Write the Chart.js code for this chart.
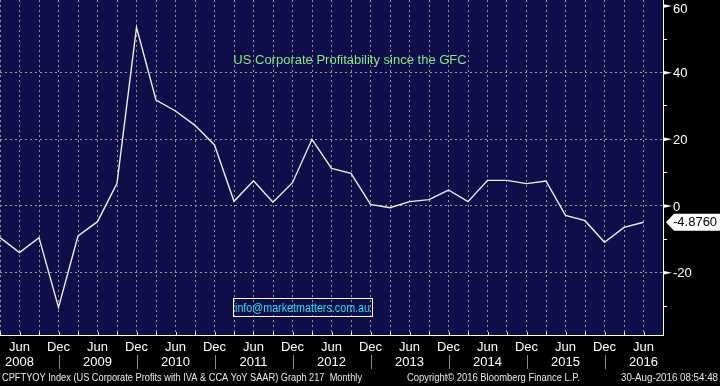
<!DOCTYPE html>
<html>
<head>
<meta charset="utf-8">
<script src="https://cdn.jsdelivr.net/npm/chart.js@4.4.0/dist/chart.umd.min.js"></script>
<style>
  html, body { margin: 0; padding: 0; background: #000; }
  #wrap { width: 720px; height: 386px; position: relative; }
</style>
</head>
<body>
<div id="wrap"><canvas id="profitChart"></canvas></div>
<script>
  // quarter ends, last one is an empty slot after the final print
  const quarters = [
    "2008-03", "2008-06", "2008-09", "2008-12",
    "2009-03", "2009-06", "2009-09", "2009-12",
    "2010-03", "2010-06", "2010-09", "2010-12",
    "2011-03", "2011-06", "2011-09", "2011-12",
    "2012-03", "2012-06", "2012-09", "2012-12",
    "2013-03", "2013-06", "2013-09", "2013-12",
    "2014-03", "2014-06", "2014-09", "2014-12",
    "2015-03", "2015-06", "2015-09", "2015-12",
    "2016-03", "2016-06", "2016-09",
  ];

  // CPFTYOY, US corporate profits YoY %
  const profitYoY = [
    -9.5, -14.0, -9.5, -30.4,
    -9.0, -4.7, 6.8, 53.6,
    31.8, 28.5, 24.2, 18.3,
    1.4, 7.6, 1.1, 7.0,
    20.0, 11.3, 9.8, 0.5,
    -0.5, 1.3, 1.9, 4.8,
    1.3, 7.7, 7.7, 6.7,
    7.5, -2.8, -4.4, -10.9,
    -6.4, -4.876,
  ];

  const monthNames = { "03": "Mar", "06": "Jun", "09": "Sep", "12": "Dec" };
  const labelledMonths = ["Jun", "Dec"];
  const yLabels = [-20, 0, 20, 40, 60];
  const yMin = -38.7;
  const yMax = 61.8;

  const titleText = "US Corporate Profitability since the GFC";
  const contactText = "info@marketmatters.com.au";
  const sourceText = "CPFTYOY Index (US Corporate Profits with IVA & CCA YoY SAAR) Graph 217  Monthly";
  const copyrightText = "Copyright\u00a9 2016 Bloomberg Finance L.P.";
  const stampText = "30-Aug-2016 08:54:48";

  const NAVY = "#100e4a";
  const GRID = "#9c9886";
  const FONT = "'Liberation Sans', Arial, sans-serif";

  const frame = {
    id: "frame",
    beforeDraw(chart) {
      const { ctx, chartArea: a } = chart;
      ctx.save();
      ctx.fillStyle = "#000";
      ctx.fillRect(0, 0, chart.width, chart.height);
      ctx.fillStyle = NAVY;
      ctx.fillRect(a.left, a.top, a.right - a.left, a.bottom - a.top);
      ctx.restore();
    },
    afterDraw(chart) {
      const { ctx, chartArea: a } = chart;
      const x = chart.scales.x;
      const y = chart.scales.y;
      ctx.save();

      // small tick marks inside the bottom edge
      ctx.strokeStyle = "#fff";
      ctx.lineWidth = 1;
      quarters.forEach((q, i) => {
        const px = Math.round(x.getPixelForValue(i)) + 0.5;
        ctx.beginPath();
        ctx.moveTo(px, a.bottom - 3);
        ctx.lineTo(px, a.bottom);
        ctx.stroke();
      });

      // year separators under Dec
      ctx.strokeStyle = "#8a8a8a";
      quarters.forEach((q, i) => {
        if (q.slice(5) !== "12") return;
        const px = Math.round(x.getPixelForValue(i)) + 0.5;
        ctx.beginPath();
        ctx.moveTo(px, 355);
        ctx.lineTo(px, 369);
        ctx.stroke();
      });

      // pointers and labels on the major y ticks
      ctx.font = "13px " + FONT;
      ctx.textBaseline = "middle";
      ctx.textAlign = "left";
      yLabels.forEach((v) => {
        const py = y.getPixelForValue(v);
        ctx.fillStyle = "#fff";
        ctx.beginPath();
        ctx.moveTo(a.right, py - 2);
        ctx.lineTo(a.right + 9, py);
        ctx.lineTo(a.right, py + 2);
        ctx.closePath();
        ctx.fill();
        ctx.fillText(String(v), a.right + 10, Math.max(py + 1, 9));
      });

      // last value tag
      const last = profitYoY[profitYoY.length - 1];
      const ly = y.getPixelForValue(last);
      ctx.fillStyle = "#fff";
      ctx.beginPath();
      ctx.moveTo(a.right + 3, ly);
      ctx.lineTo(a.right + 11, ly - 8.5);
      ctx.lineTo(chart.width, ly - 8.5);
      ctx.lineTo(chart.width, ly + 8.5);
      ctx.lineTo(a.right + 11, ly + 8.5);
      ctx.closePath();
      ctx.fill();
      ctx.fillStyle = "#000";
      ctx.fillText(last.toFixed(4), a.right + 10, ly + 0.5, 45);

      // title
      ctx.fillStyle = "#84e884";
      ctx.textAlign = "center";
      ctx.fillText(titleText, 350, 60, 236);

      // contact box
      ctx.strokeStyle = "#fff";
      ctx.strokeRect(233.5, 298.5, 139, 18);
      ctx.fillStyle = "#22dcf0";
      ctx.textAlign = "left";
      ctx.fillText(contactText, 235, 308, 135);

      // footer
      ctx.fillStyle = "#e8e8e8";
      ctx.font = "11px " + FONT;
      ctx.textBaseline = "alphabetic";
      ctx.fillText(sourceText, 2, 381, 360);
      ctx.fillText(copyrightText, 407, 381, 173);
      ctx.fillText(stampText, 621, 381, 97);

      ctx.restore();
    },
  };

  new Chart(document.getElementById("profitChart").getContext("2d"), {
    type: "line",
    data: {
      labels: quarters,
      datasets: [
        {
          label: "CPFTYOY",
          data: profitYoY,
          borderColor: "#eeeeee",
          borderWidth: 1.4,
          pointRadius: 0,
          tension: 0,
          fill: false,
        },
      ],
    },
    options: {
      responsive: true,
      maintainAspectRatio: false,
      animation: false,
      layout: { padding: 0 },
      plugins: { legend: { display: false }, tooltip: { enabled: false } },
      scales: {
        x: {
          offset: false,
          grid: { color: GRID, drawTicks: false },
          border: { display: true, color: "#fff", width: 1, dash: [2, 3] },
          ticks: {
            autoSkip: false,
            maxRotation: 0,
            minRotation: 0,
            padding: 5,
            color: "#fff",
            font: { family: FONT, size: 13, lineHeight: 1.15 },
            callback: (value, index) => {
              const q = quarters[index];
              const m = monthNames[q.slice(5)];
              if (!labelledMonths.includes(m) || index >= profitYoY.length) return "";
              return m === "Jun" ? [m, q.slice(0, 4)] : [m, ""];
            },
          },
          afterFit: (scale) => {
            scale.height = 51;
            scale.paddingLeft = 0;
            scale.paddingRight = 0;
          },
        },
        y: {
          position: "right",
          min: yMin,
          max: yMax,
          afterBuildTicks: (axis) => {
            axis.ticks = axis.ticks.filter((t) => Math.abs(t.value % 10) < 1e-6);
          },
          grid: {
            color: (c) => (c.tick && c.tick.value % 20 === 0 ? GRID : "rgba(0,0,0,0)"),
            tickColor: "#fff",
            tickLength: 4,
            drawTicks: true,
          },
          border: { display: true, color: "#fff", width: 1, dash: [2, 3] },
          ticks: { stepSize: 10, autoSkip: false, display: false },
          afterFit: (scale) => {
            scale.width = 57;
            scale.paddingTop = 0;
            scale.paddingBottom = 0;
          },
        },
      },
    },
    plugins: [frame],
  });
</script>
</body>
</html>
